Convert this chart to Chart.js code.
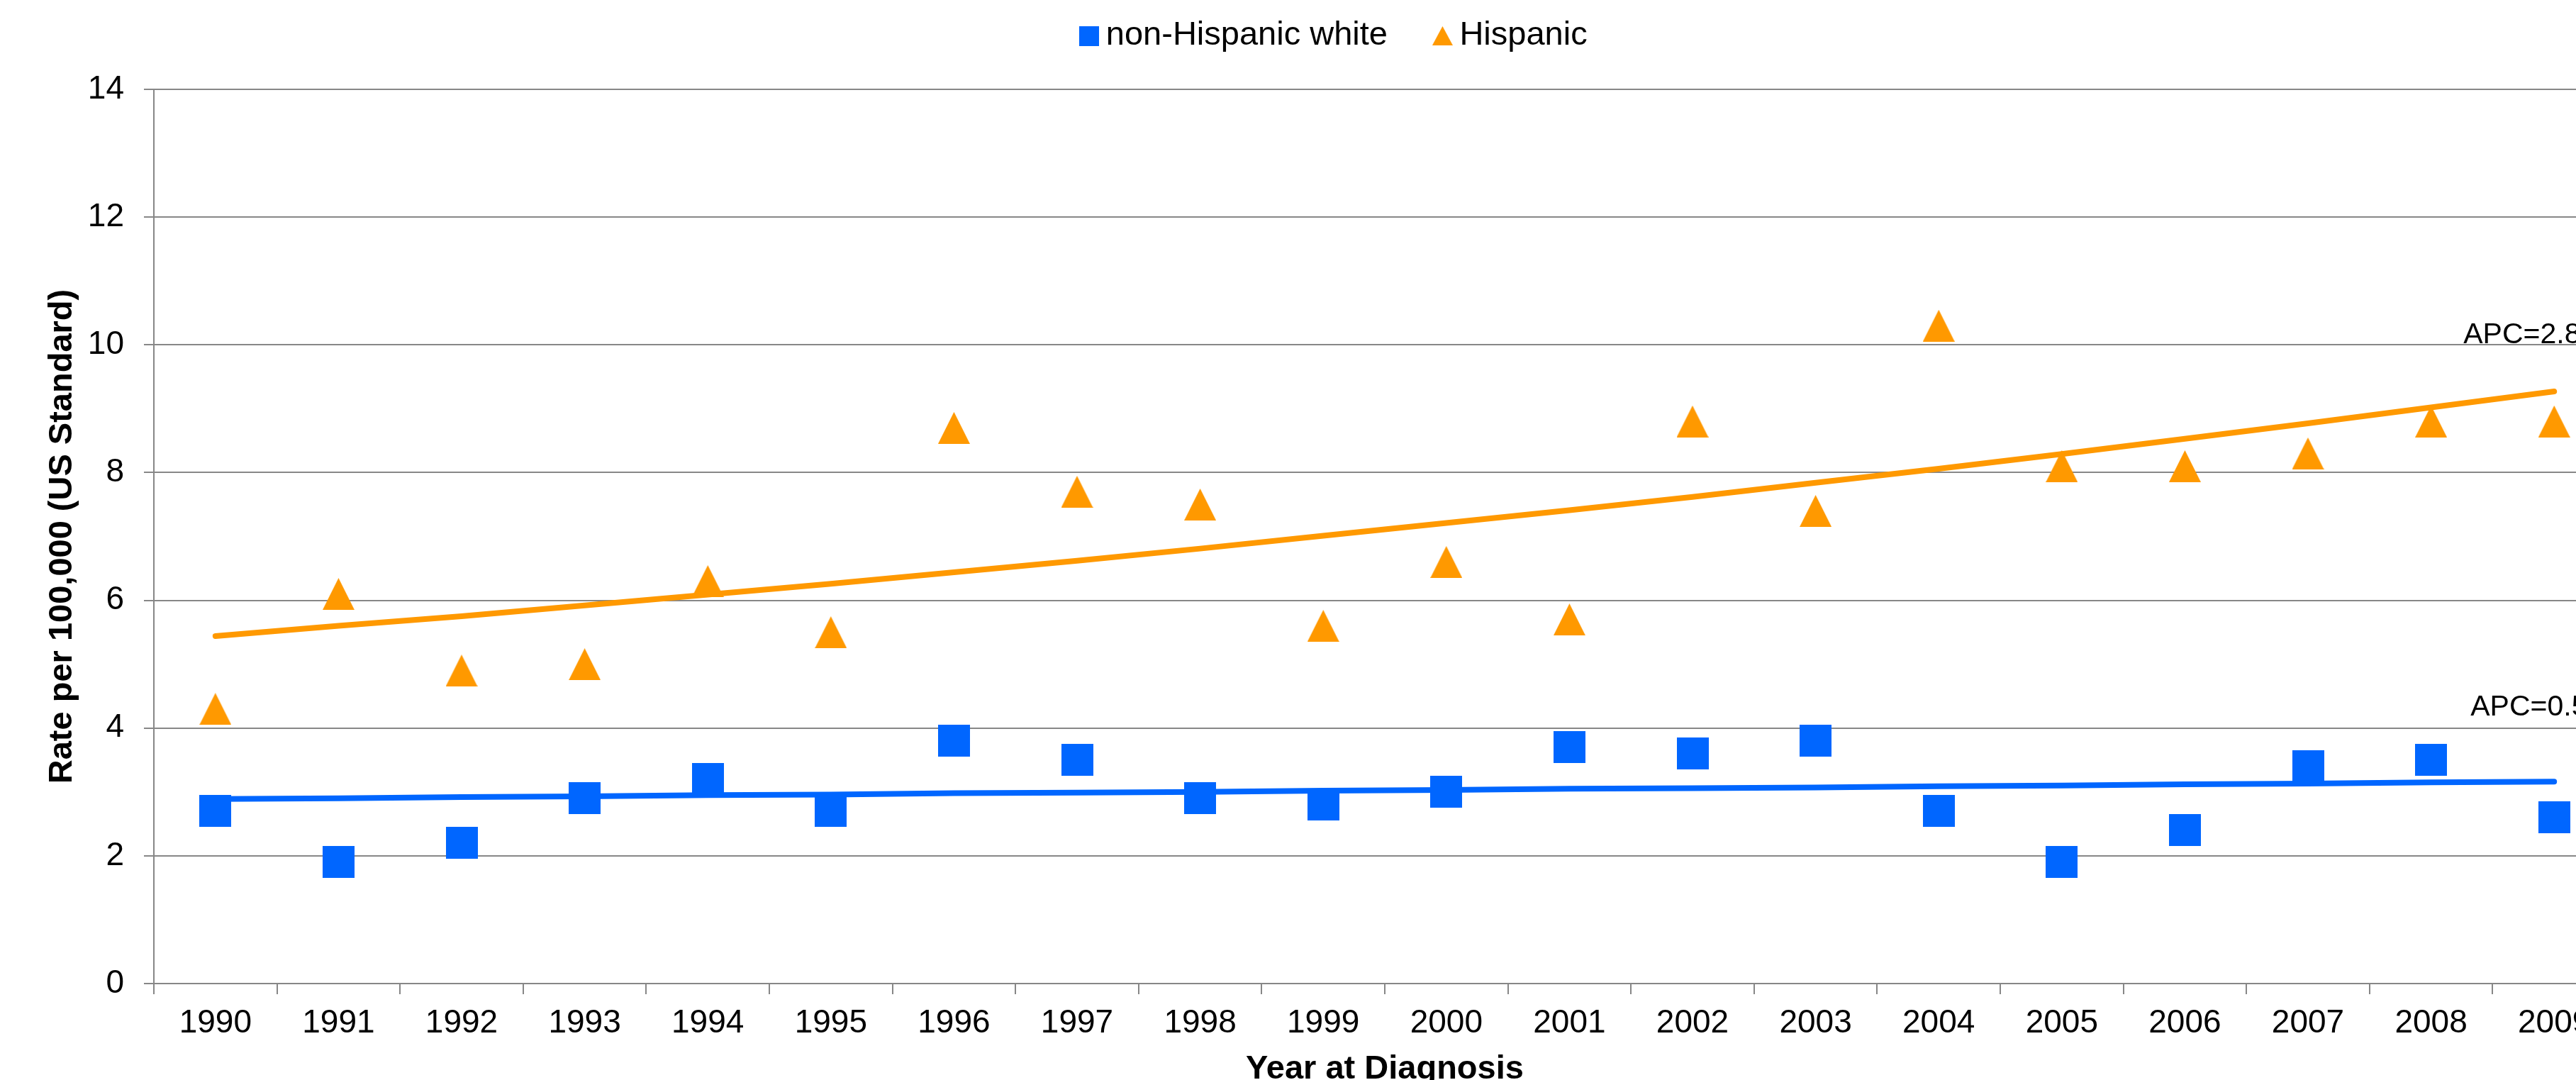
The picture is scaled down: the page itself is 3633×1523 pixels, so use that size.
<!DOCTYPE html>
<html>
<head>
<meta charset="utf-8">
<script src="https://cdn.jsdelivr.net/npm/chart.js@4.4.0/dist/chart.umd.min.js"></script>
<style>
  html, body { margin: 0; padding: 0; background: #fff; overflow: hidden; width: 3633px; height: 1523px; }
  #wrap { width: 3694px; height: 1545px; }
</style>
</head>
<body>
<div id="wrap"><canvas id="chart" width="3694" height="1545"></canvas></div>
<script>
// data
const years = ['1990', '1991', '1992', '1993', '1994', '1995', '1996', '1997', '1998', '1999',
               '2000', '2001', '2002', '2003', '2004', '2005', '2006', '2007', '2008', '2009'];
const whiteRates = [2.7, 1.9, 2.2, 2.9, 3.2, 2.7, 3.8, 3.5, 2.9, 2.8, 3.0, 3.7, 3.6, 3.8, 2.7, 1.9, 2.4, 3.4, 3.5, 2.6];
const hispanicRates = [4.3, 6.1, 4.9, 5.0, 6.3, 5.5, 8.7, 7.7, 7.5, 5.6, 6.6, 5.7, 8.8, 7.4, 10.3, 8.1, 8.1, 8.3, 8.8, 8.8];
const whiteTrend = [2.89, 2.90, 2.92, 2.93, 2.95, 2.96, 2.98, 2.99, 3.00, 3.02, 3.03, 3.05, 3.06, 3.07, 3.09, 3.10, 3.12, 3.13, 3.15, 3.16];
const hispanicTrend = [5.44, 5.60, 5.75, 5.92, 6.09, 6.26, 6.44, 6.62, 6.81, 7.01, 7.21, 7.41, 7.62, 7.84, 8.06, 8.29, 8.53, 8.77, 9.02, 9.27];
const yTickValues = [0, 2, 4, 6, 8, 10, 12, 14];
const seriesNames = ['non-Hispanic white', 'Hispanic'];
const apcLabels = ['APC=2.8%', 'APC=0.5%'];
const apcValues = [10.03, 4.2];

const BLUE = '#0066ff';
const ORANGE = '#ff9900';
const GRID = '#878787';
const FONT = '"Liberation Sans", Arial, sans-serif';

function squareMarker(size, color) {
  const c = document.createElement('canvas');
  c.width = size; c.height = size;
  const g = c.getContext('2d');
  g.fillStyle = color;
  g.fillRect(0, 0, size, size);
  return c;
}

function triangleMarker(w, h, color) {
  const c = document.createElement('canvas');
  c.width = w; c.height = h;
  const g = c.getContext('2d');
  g.fillStyle = color;
  g.beginPath();
  g.moveTo(w / 2, 0);
  g.lineTo(w, h);
  g.lineTo(0, h);
  g.closePath();
  g.fill();
  return c;
}

const squareBig = squareMarker(45, BLUE);
const triangleBig = triangleMarker(45, 45, ORANGE);
const legendMarks = [squareMarker(28, BLUE), triangleMarker(29, 27, ORANGE)];

// legend sizing / placement tweaks
const legendTweak = {
  id: 'legendTweak',
  beforeInit(chart) {
    const legend = chart.legend;
    const fit = legend.fit;
    legend.fit = function () {
      fit.call(this);
      this.height = 126;
    };
  },
  afterLayout(chart) {
    const lg = chart.legend;
    lg.top -= 50; lg.bottom -= 50;
    lg.left += 40; lg.right += 40;
  }
};

// APC annotations at the right end of the trend lines
const apcText = {
  id: 'apcText',
  afterDatasetsDraw(chart) {
    const { ctx, scales: { x, y } } = chart;
    const lastX = x.getPixelForValue(years.length - 1);
    const shift = [-128, -118];
    ctx.save();
    ctx.font = '41px ' + FONT;
    ctx.fillStyle = '#000';
    ctx.textAlign = 'left';
    ctx.textBaseline = 'alphabetic';
    apcLabels.forEach((t, i) => {
      ctx.fillText(t, lastX + shift[i], y.getPixelForValue(apcValues[i]));
    });
    ctx.restore();
  }
};

new Chart(document.getElementById('chart'), {
  type: 'line',
  data: {
    labels: years,
    datasets: [
      {
        label: seriesNames[0],
        data: whiteRates,
        showLine: false,
        pointStyle: squareBig,
        backgroundColor: BLUE,
        borderColor: BLUE,
        order: 1
      },
      {
        label: seriesNames[1],
        data: hispanicRates,
        showLine: false,
        pointStyle: triangleBig,
        backgroundColor: ORANGE,
        borderColor: ORANGE,
        order: 1
      },
      {
        label: 'trend white',
        data: whiteTrend,
        borderColor: BLUE,
        borderWidth: 8,
        borderCapStyle: 'round',
        pointRadius: 0,
        tension: 0,
        order: 2
      },
      {
        label: 'trend hispanic',
        data: hispanicTrend,
        borderColor: ORANGE,
        borderWidth: 8,
        borderCapStyle: 'round',
        pointRadius: 0,
        tension: 0,
        order: 2
      }
    ]
  },
  options: {
    responsive: false,
    animation: false,
    events: [],
    layout: { padding: 0 },
    plugins: {
      tooltip: { enabled: false },
      legend: {
        position: 'top',
        labels: {
          usePointStyle: true,
          pointStyleWidth: 1,
          boxHeight: 28,
          padding: 77,
          color: '#000',
          font: { family: FONT, size: 47 },
          generateLabels(chart) {
            const items = Chart.defaults.plugins.legend.labels.generateLabels(chart);
            return items
              .filter(it => it.datasetIndex < 2)
              .map(it => Object.assign(it, { pointStyle: legendMarks[it.datasetIndex], lineWidth: 0 }));
          }
        }
      }
    },
    scales: {
      x: {
        type: 'category',
        offset: true,
        grid: {
          offset: true,
          drawOnChartArea: false,
          drawTicks: true,
          tickLength: 15,
          color: GRID,
          lineWidth: 2
        },
        border: { color: GRID, width: 2 },
        ticks: {
          color: '#000',
          font: { family: FONT, size: 46 },
          padding: 14,
          maxRotation: 0,
          autoSkip: false
        },
        title: {
          display: true,
          text: 'Year at Diagnosis',
          color: '#000',
          font: { family: FONT, size: 47, weight: 'bold' },
          padding: { top: 4, bottom: 9 }
        },
        afterFit(scale) { scale.height = 158; }
      },
      y: {
        min: 0,
        max: 14,
        afterBuildTicks(scale) {
          scale.ticks = yTickValues.map(v => ({ value: v }));
        },
        grid: {
          color: GRID,
          lineWidth: 2,
          tickLength: 14
        },
        border: { color: GRID, width: 2 },
        ticks: {
          color: '#000',
          font: { family: FONT, size: 46 },
          padding: 28
        },
        title: {
          display: true,
          text: 'Rate per 100,000 (US Standard)',
          color: '#000',
          font: { family: FONT, size: 47, weight: 'bold' },
          padding: { top: 60, bottom: 0 }
        },
        afterFit(scale) { scale.width = 217; }
      }
    }
  },
  plugins: [legendTweak, apcText]
});
</script>
</body>
</html>
